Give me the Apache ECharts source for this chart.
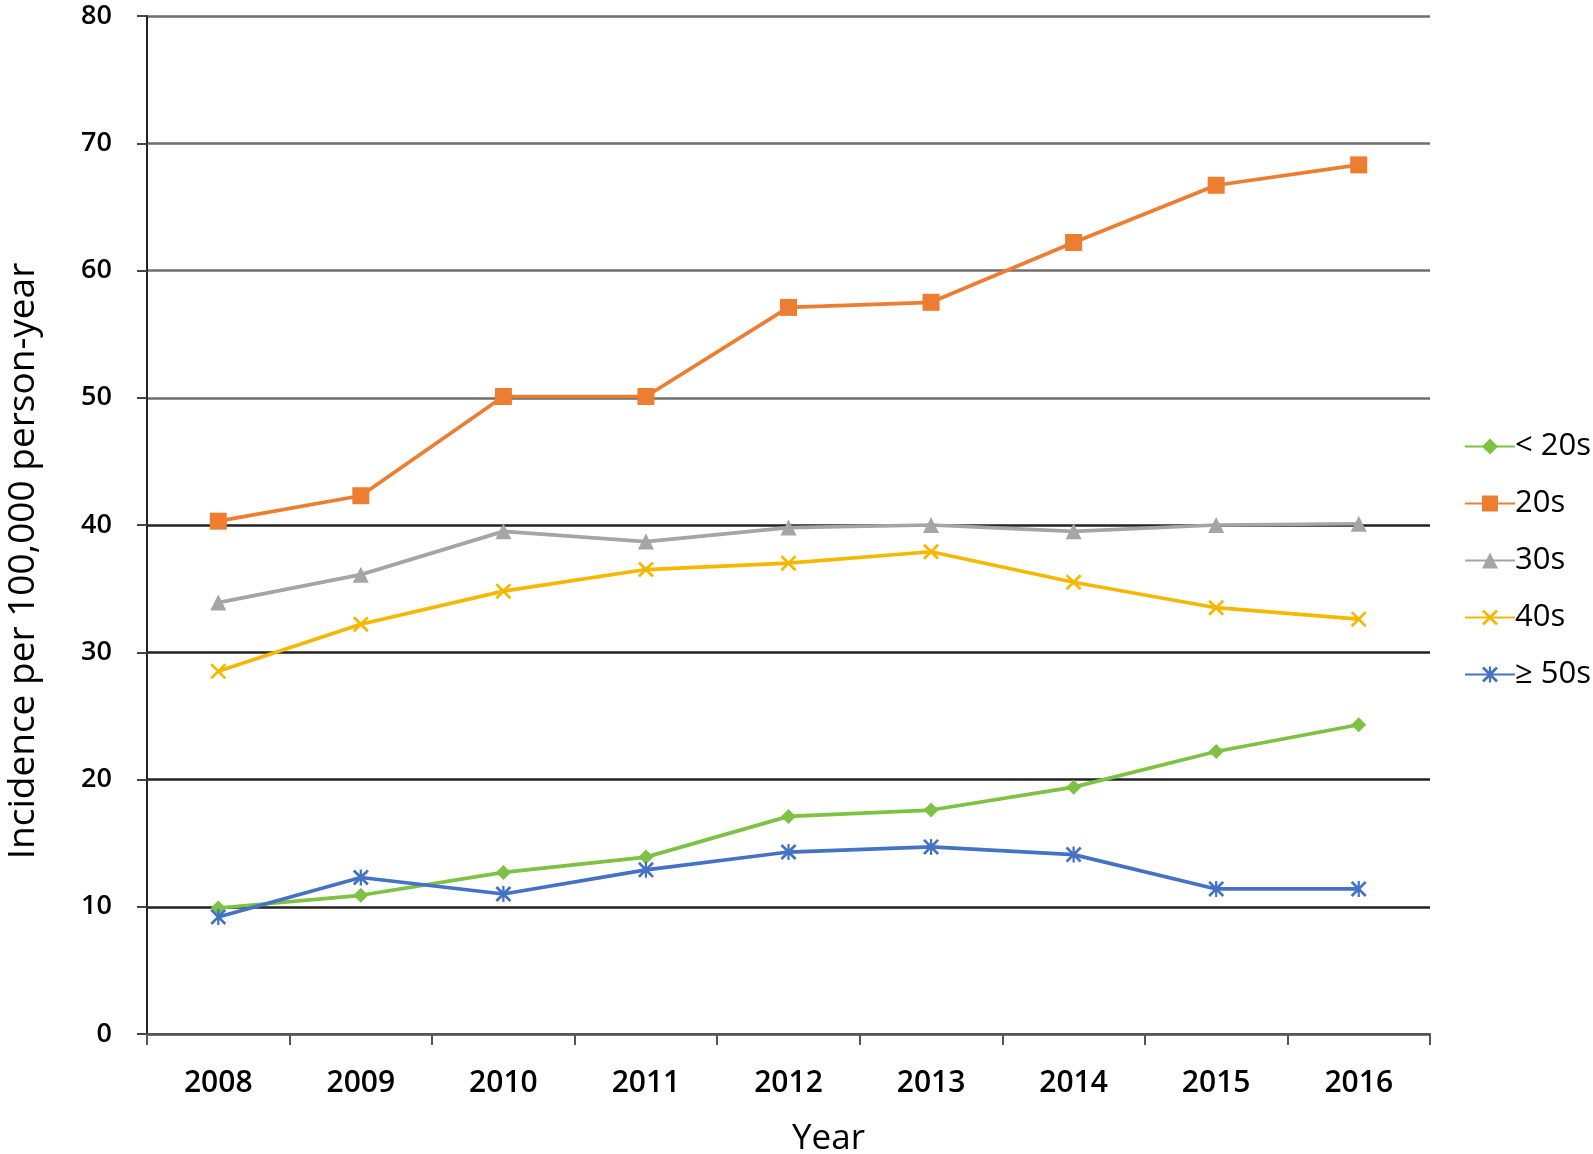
<!DOCTYPE html>
<html>
<head>
<meta charset="utf-8">
<script src="https://cdn.jsdelivr.net/npm/echarts@6/dist/echarts.min.js"></script>
<style>
html,body{margin:0;padding:0;background:#fff;}
#chart{width:1593px;height:1154px;}
</style>
</head>
<body>
<div id="chart"></div>
<script>
const years = ['2008','2009','2010','2011','2012','2013','2014','2015','2016'];
const under20 = [9.9, 10.9, 12.7, 13.9, 17.1, 17.6, 19.4, 22.2, 24.3];
const age20s = [40.3, 42.3, 50.1, 50.1, 57.1, 57.5, 62.2, 66.7, 68.3];
const age30s = [33.9, 36.1, 39.5, 38.7, 39.8, 40.0, 39.5, 40.0, 40.1];
const age40s = [28.5, 32.2, 34.8, 36.5, 37.0, 37.9, 35.5, 33.5, 32.6];
const age50plus = [9.2, 12.3, 11.0, 12.9, 14.3, 14.7, 14.1, 11.4, 11.4];
const seriesNames = ['< 20s', '20s', '30s', '40s', '\u2265 50s'];
const yTicks = [0, 10, 20, 30, 40, 50, 60, 70, 80];

const FONT = '"Open Sans", "Noto Sans", sans-serif';
const xPath = 'path://M0,1.2L1.2,0L5,3.8L8.8,0L10,1.2L6.2,5L10,8.8L8.8,10L5,6.2L1.2,10L0,8.8L3.8,5Z';
const starPath = 'path://M0,1.2L1.2,0L5,3.8L8.8,0L10,1.2L6.2,5L10,8.8L8.8,10L5,6.2L1.2,10L0,8.8L3.8,5Z M4.3,0H5.7V10H4.3Z';

function mk(name, data, color, symbol, size) {
  return {
    name: name, type: 'line', data: data,
    symbol: symbol, symbolSize: size, showSymbol: true,
    lineStyle: {color: color, width: 3.7},
    itemStyle: {color: color},
    emphasis: {disabled: true}
  };
}

const chart = echarts.init(document.getElementById('chart'));
chart.setOption({
  animation: false,
  backgroundColor: '#fff',
  grid: {left: 147, right: 163, top: 16, bottom: 120, containLabel: false, outerBoundsMode: 'none'},
  legend: {
    orient: 'vertical', right: -3, top: 426, itemGap: 26,
    itemWidth: 50, itemHeight: 20,
    textStyle: {fontFamily: FONT, fontSize: 31, color: '#000', padding: [0,0,0,-5]},
    data: seriesNames
  },
  xAxis: {
    type: 'category', data: years, boundaryGap: true,
    axisLine: {lineStyle: {color: '#555', width: 2}},
    axisTick: {show: true, length: 11, lineStyle: {color: '#555', width: 2}},
    axisLabel: {fontFamily: FONT, fontSize: 30, fontWeight: 600, color: '#000', margin: 34},
    name: 'Year', nameLocation: 'middle', nameGap: 88,
    nameTextStyle: {fontFamily: FONT, fontSize: 35, color: '#000', padding: [0,0,0,80]}
  },
  yAxis: {
    type: 'value', min: yTicks[0], max: yTicks[yTicks.length-1], interval: 10,
    axisLine: {show: true, lineStyle: {color: '#222', width: 2}},
    axisTick: {show: true, length: 10, lineStyle: {color: '#444', width: 2}},
    axisLabel: {fontFamily: FONT, fontSize: 27, fontWeight: 600, color: '#000', margin: 35},
    splitLine: {show: true, lineStyle: {width: 2.5, color: ['#444','#222','#222','#222','#222','#6e6e6e','#6e6e6e','#6e6e6e','#6e6e6e']}},
    name: 'Incidence per 100,000 person-year', nameLocation: 'middle', nameGap: 105,
    nameTextStyle: {fontFamily: FONT, fontSize: 37, color: '#000', padding: [0,72,0,0]}
  },
  series: [
    mk(seriesNames[0], under20, '#7dc242', 'diamond', 15),
    mk(seriesNames[1], age20s, '#ed7d31', 'rect', 17),
    mk(seriesNames[2], age30s, '#a5a5a5', 'triangle', 16),
    mk(seriesNames[3], age40s, '#f5b800', xPath, 16),
    mk(seriesNames[4], age50plus, '#4472c4', starPath, 16)
  ]
});
</script>
</body>
</html>
